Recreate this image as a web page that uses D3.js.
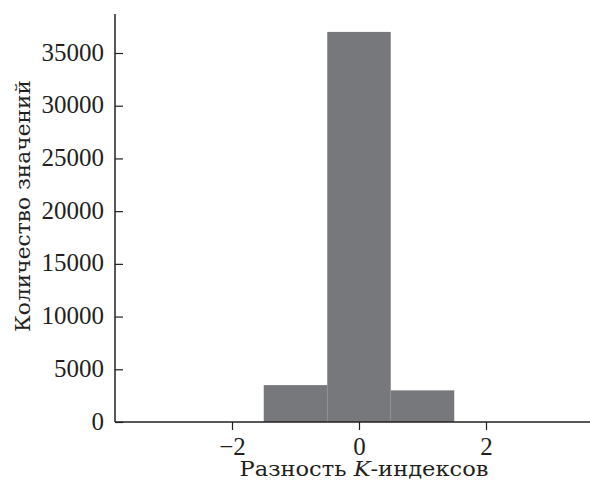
<!DOCTYPE html>
<html>
<head>
<meta charset="utf-8">
<script src="https://cdn.jsdelivr.net/npm/d3@7"></script>
<style>
  body { margin: 0; background: #fff; }
</style>
</head>
<body>
<div id="plot"></div>
<script>
var w = 590;
var h = 488;

// histogram bins (K-index difference) and counts
var bins = [-2, -1, 0, 1, 2];
var counts = [0, 3500, 37000, 3000, 0];
var xTicks = [-2, 0, 2];
var yTicks = [0, 5000, 10000, 15000, 20000, 25000, 30000, 35000];

var left = 115;
var bottom = 422;
var ink = "#231f20";
var numFont = "'Liberation Serif', 'Times New Roman', serif";
var cyrFont = "'DejaVu Serif', serif";

var xScale = d3.scaleLinear().domain([-2, 2]).range([232, 486]);
var yScale = d3.scaleLinear().domain([0, 35000]).range([bottom, 53]);

var svg = d3.select("#plot").append("svg").attr("width", w).attr("height", h);

// bars
svg
  .selectAll("rect.bar")
  .data(bins)
  .enter()
  .append("rect")
  .attr("class", "bar")
  .attr("x", (d) => xScale(d - 0.5))
  .attr("width", (d) => xScale(d + 0.5) - xScale(d - 0.5))
  .attr("y", (d, i) => yScale(counts[i]))
  .attr("height", (d, i) => bottom - yScale(counts[i]))
  .attr("fill", "#77787b");

// Axis
var xAxis = d3.axisBottom(xScale).tickValues(xTicks).tickSize(8).tickSizeOuter(0)
  .tickFormat((d) => (d < 0 ? "\u2212" + Math.abs(d) : d));
var yAxis = d3.axisRight(yScale).tickValues(yTicks).tickSize(8).tickSizeOuter(0)
  .tickFormat(d3.format("d"));

var gx = svg
  .append("g")
  .attr("transform", "translate(0," + bottom + ")")
  .call(xAxis);
gx.select(".domain").remove();
gx.append("line")
  .attr("x1", left).attr("x2", w)
  .attr("stroke", ink).attr("stroke-width", 1.5);
gx.selectAll(".tick line").attr("stroke", ink).attr("stroke-width", 1.2);
gx.selectAll(".tick text")
  .attr("y", 33)
  .attr("dy", null)
  .attr("fill", ink)
  .style("font-family", numFont)
  .style("font-size", "25px");

var gy = svg
  .append("g")
  .attr("transform", "translate(" + left + ",0)")
  .call(yAxis);
gy.select(".domain").remove();
gy.append("line")
  .attr("y1", 14).attr("y2", bottom)
  .attr("stroke", ink).attr("stroke-width", 1.5);
gy.selectAll(".tick line").attr("stroke", ink).attr("stroke-width", 1.2);
gy.selectAll(".tick text")
  .attr("x", -11)
  .attr("dy", null)
  .attr("y", 7)
  .attr("text-anchor", "end")
  .attr("fill", ink)
  .style("font-family", numFont)
  .style("font-size", "25px");

// labels
var xl = svg.append("text")
  .attr("x", 364)
  .attr("y", 476)
  .attr("text-anchor", "middle")
  .attr("fill", ink)
  .attr("textLength", 249)
  .attr("lengthAdjust", "spacingAndGlyphs")
  .style("font-family", cyrFont)
  .style("font-size", "21px");
xl.append("tspan").text("Разность ");
xl.append("tspan").style("font-style", "italic").text("K");
xl.append("tspan").text("-индексов");

svg.append("text")
  .attr("transform", "translate(30,206) rotate(-90)")
  .attr("text-anchor", "middle")
  .attr("fill", ink)
  .attr("textLength", 252)
  .attr("lengthAdjust", "spacingAndGlyphs")
  .style("font-family", cyrFont)
  .style("font-size", "21px")
  .text("Количество значений");
</script>
</body>
</html>
